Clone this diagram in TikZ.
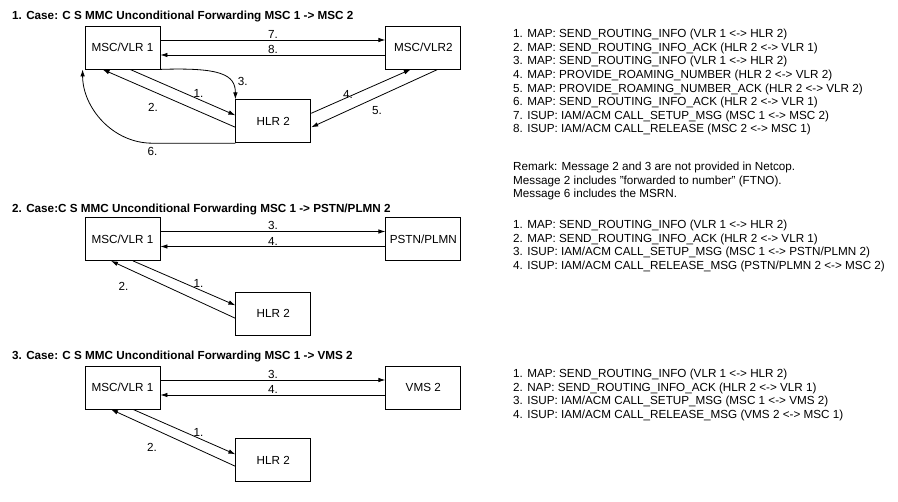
\documentclass[tikz,border=0pt]{standalone}
\usepackage{fontspec}
\setmainfont{Liberation Sans}
\usetikzlibrary{positioning, arrows.meta}
\newcommand{\msgfont}{\fontsize{11.7}{13.6}\selectfont}
\tikzset{
	>={Latex[length=7pt,width=4.5pt]},
	box/.style={draw, line width=0.8pt, minimum width=75pt, minimum height=43pt, inner sep=0pt, font=\msgfont},
	msg/.style={->, line width=0.8pt},
	lbl/.style={font=\msgfont, inner sep=1pt},
	title/.style={font=\msgfont\bfseries, anchor=west, inner sep=0pt},
	list/.style={font=\msgfont, align=left, anchor=north west, inner sep=0pt}}

\begin{document}
\begin{tikzpicture}[x=1pt, y=-1pt]
		\useasboundingbox (0,0) rectangle (898,502);
		
		% case 1
		\node[title] (t1) at (12,17) {1. Case: C S MMC Unconditional Forwarding MSC 1 -> MSC 2};
		\node[box] (msc1) at (122.5,47.5) {MSC/VLR 1};
		\node[box, right=225pt of msc1] (msc2) {MSC/VLR2};
		\node[box, below right=30pt and 75pt of msc1] (hlr1) {HLR 2};
		
		\draw[msg] ([yshift=7.5pt]msc1.east) -- node[lbl, above]{7.} ([yshift=7.5pt]msc2.west);
		\draw[msg] ([yshift=-7.5pt]msc2.west) -- node[lbl, above]{8.} ([yshift=-7.5pt]msc1.east);
		\draw[msg] ([xshift=7.5pt]msc1.south) -- node[lbl, pos=0.65, above]{1.} ([yshift=6pt]hlr1.west);
		\draw[msg] ([yshift=-6pt]hlr1.west) -- node[lbl, pos=0.62, below=11pt]{2.} ([xshift=-20pt]msc1.south);
		\draw[msg] (msc1.south east) .. controls +(60,-2) and +(0,-25) .. node[lbl, pos=0.7, right=6pt]{3.} (hlr1.north west);
		\draw[msg] ([yshift=8pt]hlr1.east) -- node[lbl, pos=0.37, above=-3pt]{4.} ([xshift=-12.5pt]msc2.south);
		\draw[msg] ([xshift=14.5pt]msc2.south) -- node[lbl, pos=0.48, below=8pt]{5.} ([yshift=-6pt]hlr1.east);
		\draw[msg] (hlr1.south west) -- node[lbl, pos=1, below=3pt]{6.} ++(-83,0) .. controls +(-40,0) and +(0,38) .. ([xshift=-2pt]msc1.south west);
		
		\node[list] (list1) at (513,29) {1. MAP: SEND\_ROUTING\_INFO (VLR 1 <-> HLR 2)\\
			2. MAP: SEND\_ROUTING\_INFO\_ACK (HLR 2 <-> VLR 1)\\
			3. MAP: SEND\_ROUTING\_INFO (VLR 1 <-> HLR 2)\\
			4. MAP: PROVIDE\_ROAMING\_NUMBER (HLR 2 <-> VLR 2)\\
			5. MAP: PROVIDE\_ROAMING\_NUMBER\_ACK (HLR 2 <-> VLR 2)\\
			6. MAP: SEND\_ROUTING\_INFO\_ACK (HLR 2 <-> VLR 1)\\
			7. ISUP: IAM/ACM CALL\_SETUP\_MSG (MSC 1 <-> MSC 2)\\
			8. ISUP: IAM/ACM CALL\_RELEASE (MSC 2 <-> MSC 1)};
		\node[list] (remark) at (513,162) {Remark: Message 2 and 3 are not provided in Netcop.\\
			Message 2 includes "forwarded to number" (FTNO).\\
			Message 6 includes the MSRN.};
		
		% case 2
		\node[title] (t2) at (12,210) {2. Case:C S MMC Unconditional Forwarding MSC 1 -> PSTN/PLMN 2};
		\node[box] (msc3) at (122.5,239) {MSC/VLR 1};
		\node[box, right=225pt of msc3] (pstn) {PSTN/PLMN};
		\node[box, below right=31pt and 75pt of msc3] (hlr2) {HLR 2};
		
		\draw[msg] ([yshift=7.5pt]msc3.east) -- node[lbl, above]{3.} ([yshift=7.5pt]pstn.west);
		\draw[msg] ([yshift=-7.5pt]pstn.west) -- node[lbl, above]{4.} ([yshift=-7.5pt]msc3.east);
		\draw[msg] ([xshift=10.5pt]msc3.south) -- node[lbl, pos=0.64, above]{1.} ([yshift=8.5pt]hlr2.west);
		\draw[msg] ([yshift=-4.5pt]hlr2.west) -- node[lbl, pos=0.9, below=14pt]{2.} ([xshift=-11.5pt]msc3.south);
		
		\node[list] (list2) at (513,220) {1. MAP: SEND\_ROUTING\_INFO (VLR 1 <-> HLR 2)\\
			2. MAP: SEND\_ROUTING\_INFO\_ACK (HLR 2 <-> VLR 1)\\
			3. ISUP: IAM/ACM CALL\_SETUP\_MSG (MSC 1 <-> PSTN/PLMN 2)\\
			4. ISUP: IAM/ACM CALL\_RELEASE\_MSG (PSTN/PLMN 2 <-> MSC 2)};
		
		% case 3
		\node[title] (t3) at (12,357) {3. Case: C S MMC Unconditional Forwarding MSC 1 -> VMS 2};
		\node[box] (msc4) at (122.5,387.5) {MSC/VLR 1};
		\node[box, right=225pt of msc4] (vms) {VMS 2};
		\node[box, below right=29pt and 75pt of msc4] (hlr3) {HLR 2};
		
		\draw[msg] ([yshift=7.5pt]msc4.east) -- node[lbl, above]{3.} ([yshift=7.5pt]vms.west);
		\draw[msg] ([yshift=-7.5pt]vms.west) -- node[lbl, above]{4.} ([yshift=-7.5pt]msc4.east);
		\draw[msg] ([xshift=10.5pt]msc4.south) -- node[lbl, pos=0.64, above]{1.} ([yshift=6pt]hlr3.west);
		\draw[msg] ([yshift=-6pt]hlr3.west) -- node[lbl, pos=0.67, below=14pt]{2.} ([xshift=-11.5pt]msc4.south);
		
		\node[list] (list3) at (513,369) {1. MAP: SEND\_ROUTING\_INFO (VLR 1 <-> HLR 2)\\
			2. NAP: SEND\_ROUTING\_INFO\_ACK (HLR 2 <-> VLR 1)\\
			3. ISUP: IAM/ACM CALL\_SETUP\_MSG (MSC 1 <-> VMS 2)\\
			4. ISUP: IAM/ACM CALL\_RELEASE\_MSG (VMS 2 <-> MSC 1)};
		
	\end{tikzpicture}
\end{document}
